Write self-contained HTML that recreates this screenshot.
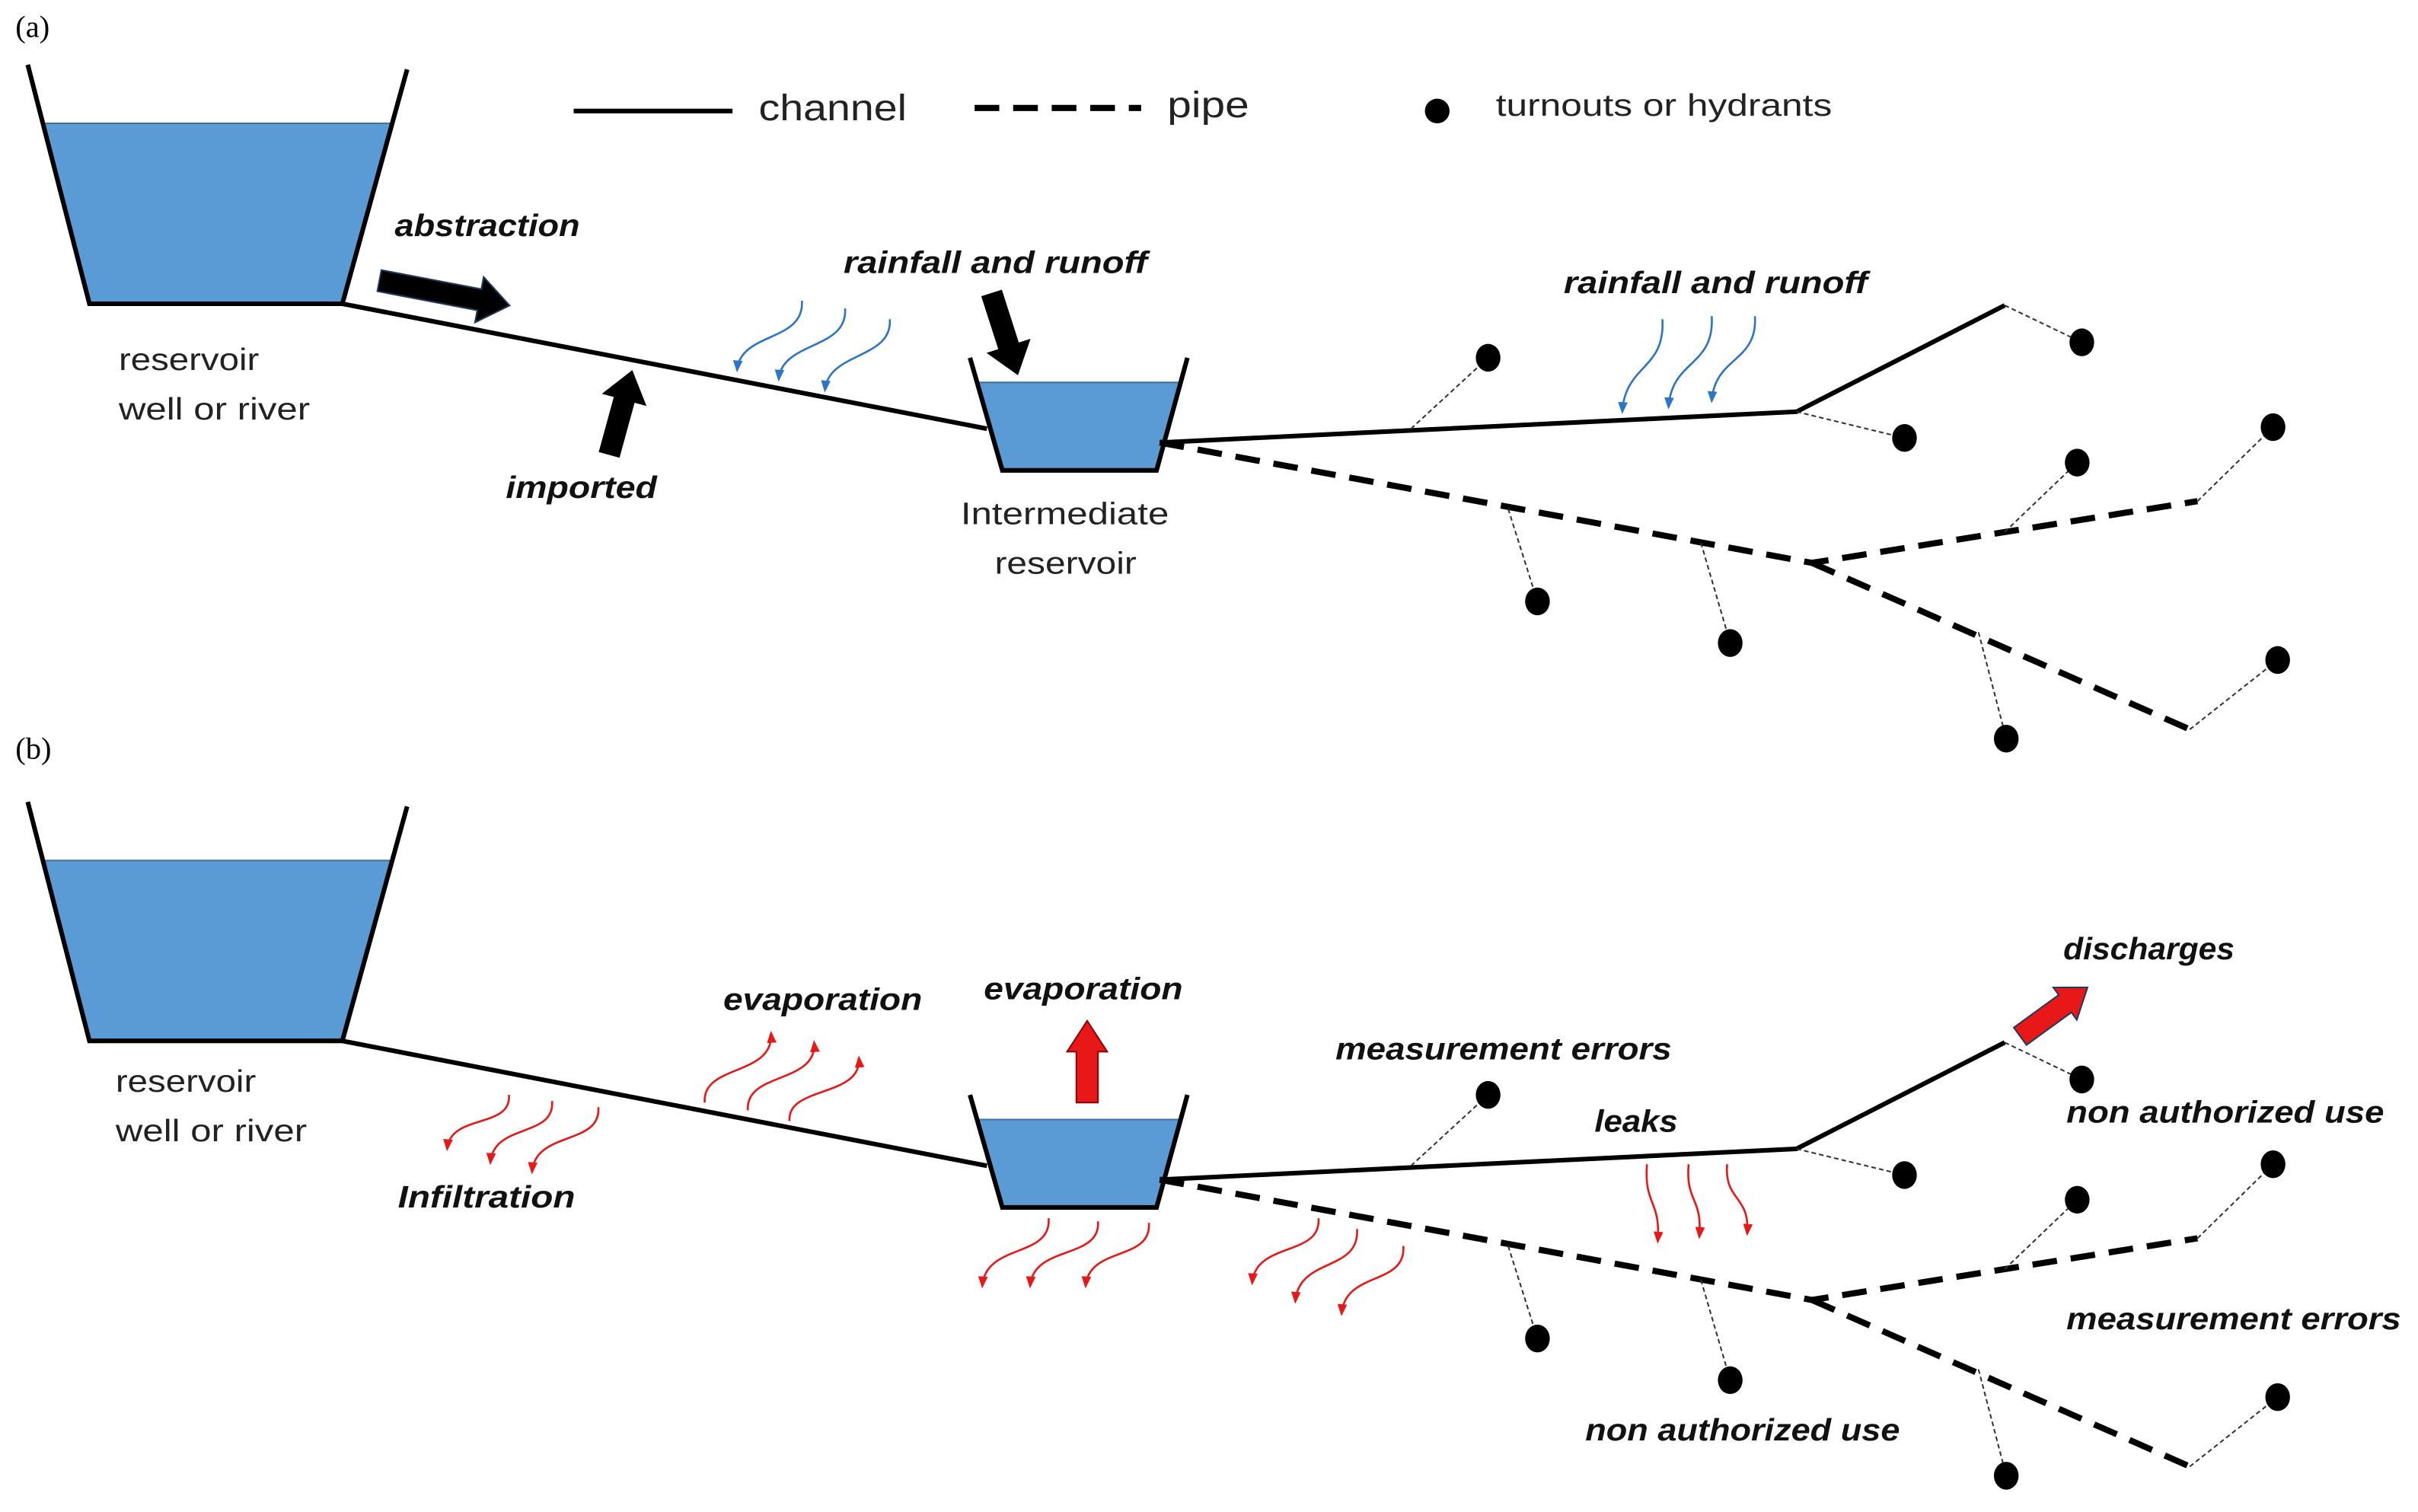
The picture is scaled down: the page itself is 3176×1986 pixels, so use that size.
<!DOCTYPE html>
<html><head><meta charset="utf-8"><style>
html,body{margin:0;padding:0;background:#fff;}
svg{display:block;}
text{font-family:"Liberation Sans",sans-serif;}
.bi{font-weight:bold;font-style:italic;font-size:20px;fill:#111;}
.n{font-size:20px;fill:#222;}
</style></head><body>
<svg width="3176" height="1986" viewBox="0 0 1568 980.5" preserveAspectRatio="none" xmlns="http://www.w3.org/2000/svg">
<defs>
<marker id="bh" viewBox="0 0 10 10" refX="8" refY="5" markerWidth="6" markerHeight="6" orient="auto"><path d="M0,1 L10,5 L0,9 z" fill="#2e75c6"/></marker>
<marker id="rh" viewBox="0 0 10 10" refX="8" refY="5" markerWidth="6" markerHeight="6" orient="auto"><path d="M0,1 L10,5 L0,9 z" fill="#e81818"/></marker>
<g id="panel">
  <polygon points="27,80 254,80 223,197 58,197" fill="#5b9bd5"/>
  <line x1="27" y1="80" x2="254" y2="80" stroke="#41719c" stroke-width="1"/>
  <path d="M18,42 L58,197 L222,197 L264,45" fill="none" stroke="#000" stroke-width="3"/>
  <polygon points="634,248 765,248 750,305 650,305" fill="#5b9bd5"/>
  <line x1="634" y1="248" x2="765" y2="248" stroke="#41719c" stroke-width="1"/>
  <path d="M629,232 L650,305 L750,305 L770,232" fill="none" stroke="#000" stroke-width="3"/>
  <line x1="222" y1="197" x2="640" y2="278" stroke="#000" stroke-width="3"/>
  <path d="M752,287 L1165,267 L1300,198" fill="none" stroke="#000" stroke-width="3"/>
  <path d="M752,287 L1175,365 L1425,325 M1175,365 L1420,473" fill="none" stroke="#000" stroke-width="4" stroke-dasharray="16,9"/>
  <g stroke="#333" stroke-width="1" stroke-dasharray="3,2" fill="none">
    <line x1="915" y1="278" x2="965" y2="232"/>
    <line x1="1165" y1="267" x2="1235" y2="284"/>
    <line x1="1300" y1="198" x2="1350" y2="222"/>
    <line x1="978" y1="330" x2="997" y2="390"/>
    <line x1="1103" y1="352" x2="1122" y2="417"/>
    <line x1="1300" y1="345" x2="1347" y2="300"/>
    <line x1="1425" y1="325" x2="1474" y2="277"/>
    <line x1="1283" y1="410" x2="1301" y2="479"/>
    <line x1="1420" y1="473" x2="1477" y2="428"/>
  </g>
  <g fill="#000">
    <ellipse cx="965" cy="232" rx="8" ry="9"/>
    <ellipse cx="1235" cy="284" rx="8" ry="9"/>
    <ellipse cx="1350" cy="222" rx="8" ry="9"/>
    <ellipse cx="997" cy="390" rx="8" ry="9"/>
    <ellipse cx="1122" cy="417" rx="8" ry="9"/>
    <ellipse cx="1347" cy="300" rx="8" ry="9"/>
    <ellipse cx="1474" cy="277" rx="8" ry="9"/>
    <ellipse cx="1301" cy="479" rx="8" ry="9"/>
    <ellipse cx="1477" cy="428" rx="8" ry="9"/>
  </g>
</g>
</defs>

<!-- Panel (a) -->
<text x="10" y="24" style="font-family:'Liberation Serif',serif;font-size:20px">(a)</text>
<use href="#panel"/>
<line x1="372" y1="72" x2="475" y2="72" stroke="#000" stroke-width="3"/>
<text x="492" y="78" style="font-size:24px;fill:#222" textLength="96" lengthAdjust="spacingAndGlyphs">channel</text>
<line x1="632" y1="70" x2="740" y2="70" stroke="#000" stroke-width="4" stroke-dasharray="16,9"/>
<text x="757" y="76" style="font-size:24px;fill:#222" textLength="53" lengthAdjust="spacingAndGlyphs">pipe</text>
<circle cx="932" cy="72" r="8" fill="#000"/>
<text x="970" y="75" style="font-size:20px;fill:#222" textLength="218" lengthAdjust="spacingAndGlyphs">turnouts or hydrants</text>

<text class="bi" x="256" y="153" textLength="120" lengthAdjust="spacingAndGlyphs">abstraction</text>
<g transform="translate(246,182) rotate(10.8)"><polygon points="0,-7 66,-7 66,-15 86,0 66,15 66,7 0,7" fill="#000" stroke="#1f3a5a" stroke-width="1"/></g>
<g transform="translate(395,295) rotate(-74.7)"><polygon points="0,-7 37,-7 37,-15 57,0 37,15 37,7 0,7" fill="#000"/></g>
<text class="bi" x="328" y="323" textLength="98" lengthAdjust="spacingAndGlyphs">imported</text>
<text class="bi" x="547" y="177" textLength="197" lengthAdjust="spacingAndGlyphs">rainfall and runoff</text>
<g transform="translate(643,190) rotate(72.2)"><polygon points="0,-7 36,-7 36,-15 56,0 36,15 36,7 0,7" fill="#000"/></g>
<text class="n" x="77" y="240" textLength="91" lengthAdjust="spacingAndGlyphs">reservoir</text>
<text class="n" x="77" y="272" textLength="124" lengthAdjust="spacingAndGlyphs">well or river</text>
<text class="n" x="623" y="340" textLength="135" lengthAdjust="spacingAndGlyphs">Intermediate</text>
<text class="n" x="645" y="372" textLength="92" lengthAdjust="spacingAndGlyphs">reservoir</text>
<text class="bi" x="1014" y="190" textLength="197" lengthAdjust="spacingAndGlyphs">rainfall and runoff</text>
<g fill="none" stroke="#2e75c6" stroke-width="1.3" marker-end="url(#bh)">
  <path d="M520,195 C522,222 480,215 478,240"/>
  <path d="M548,200 C550,227 507,221 505,246"/>
  <path d="M577,207 C579,233 537,228 535,253"/>
  <path d="M1078,207 C1080,240 1054,236 1052,267"/>
  <path d="M1110,205 C1112,238 1084,233 1082,264"/>
  <path d="M1138,205 C1140,235 1112,231 1110,260"/>
</g>

<!-- Panel (b) -->
<text x="10" y="492" style="font-family:'Liberation Serif',serif;font-size:20px">(b)</text>
<use href="#panel" transform="translate(0,478)"/>
<text class="n" x="75" y="708" textLength="91" lengthAdjust="spacingAndGlyphs">reservoir</text>
<text class="n" x="75" y="740" textLength="124" lengthAdjust="spacingAndGlyphs">well or river</text>
<text class="bi" x="469" y="655" textLength="129" lengthAdjust="spacingAndGlyphs">evaporation</text>
<text class="bi" x="638" y="648" textLength="129" lengthAdjust="spacingAndGlyphs">evaporation</text>
<text class="bi" x="1338" y="622" textLength="111" lengthAdjust="spacingAndGlyphs">discharges</text>
<text class="bi" x="866" y="687" textLength="218" lengthAdjust="spacingAndGlyphs">measurement  errors</text>
<text class="bi" x="1034" y="734" textLength="54" lengthAdjust="spacingAndGlyphs">leaks</text>
<text class="bi" x="1340" y="728" textLength="206" lengthAdjust="spacingAndGlyphs">non authorized use</text>
<text class="bi" x="258" y="783" textLength="115" lengthAdjust="spacingAndGlyphs">Infiltration</text>
<text class="bi" x="1340" y="862" textLength="217" lengthAdjust="spacingAndGlyphs">measurement errors</text>
<text class="bi" x="1028" y="934" textLength="204" lengthAdjust="spacingAndGlyphs">non authorized use</text>
<g transform="translate(705,715) rotate(-90)"><polygon points="0,-7 33,-7 33,-13 53,0 33,13 33,7 0,7" fill="#e81818" stroke="#8b0000" stroke-width="1"/></g>
<g transform="translate(1310,672) rotate(-36)"><polygon points="0,-7 36,-7 36,-13 54,0 36,13 36,7 0,7" fill="#e81818" stroke="#1f3a5a" stroke-width="1"/></g>
<g fill="none" stroke="#e81818" stroke-width="1.3" marker-end="url(#rh)">
  <path d="M330,710 C332,732 292,722 290,745"/>
  <path d="M358,714 C360,738 320,728 318,754"/>
  <path d="M388,718 C390,743 347,733 345,760"/>
  <path d="M457,715 C455,690 502,698 500,670"/>
  <path d="M485,720 C483,695 530,703 528,676"/>
  <path d="M512,727 C510,704 559,712 557,686"/>
  <path d="M680,790 C682,816 639,806 637,834"/>
  <path d="M712,792 C714,817 670,807 668,834"/>
  <path d="M745,793 C747,818 706,808 704,834"/>
  <path d="M855,790 C857,815 814,805 812,832"/>
  <path d="M880,797 C882,825 842,815 840,844"/>
  <path d="M910,808 C912,834 872,824 870,852"/>
  <path d="M1068,755 C1066,782 1077,778 1075,805"/>
  <path d="M1095,755 C1093,780 1104,776 1102,802"/>
  <path d="M1120,755 C1118,779 1135,775 1133,800"/>
</g>
</svg>
</body></html>
